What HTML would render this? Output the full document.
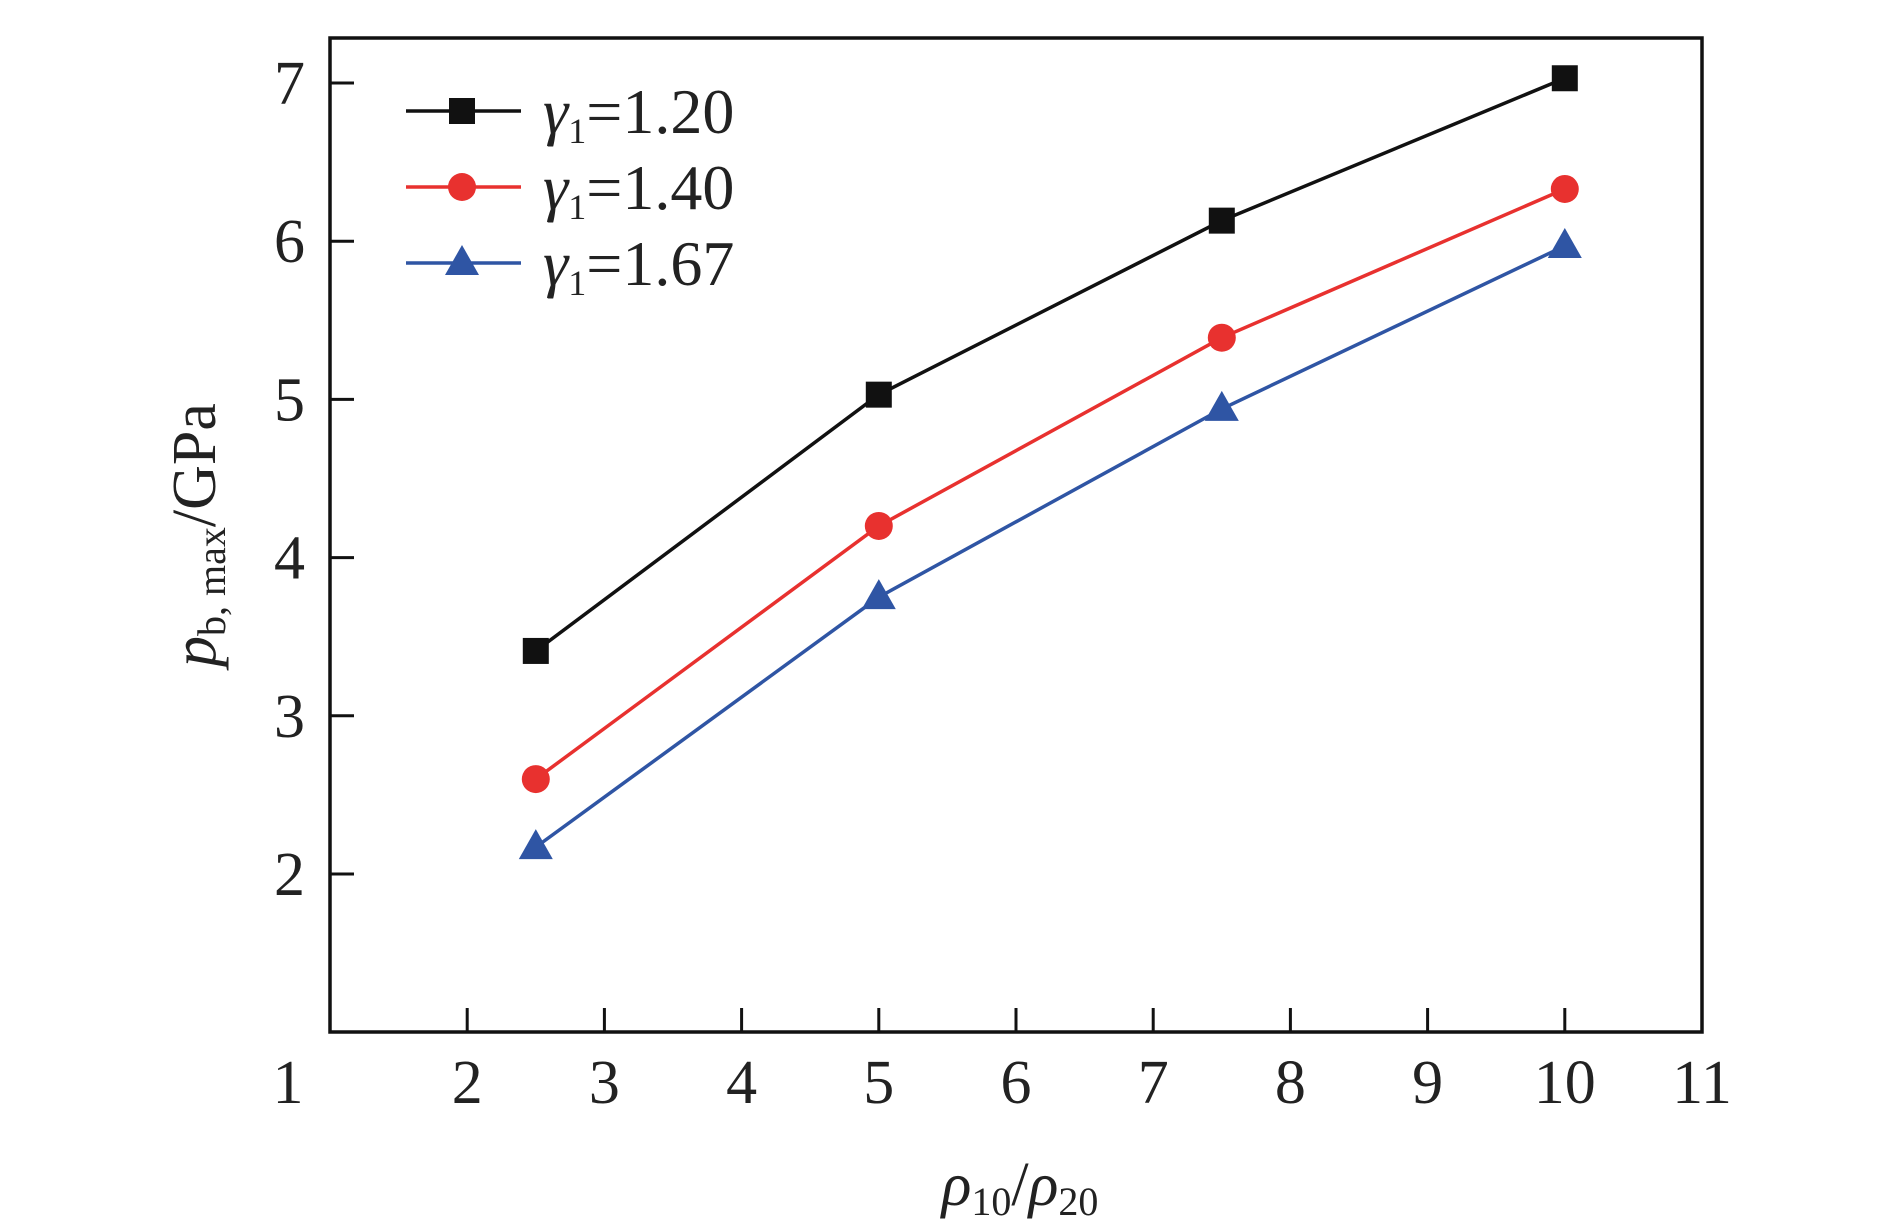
<!DOCTYPE html>
<html><head><meta charset="utf-8"><style>
html,body{margin:0;padding:0;background:#fff;}
svg{display:block;}
svg text{font-family:"Liberation Serif","Times New Roman",serif;}
</style></head><body>
<svg id="chart" width="1890" height="1223" viewBox="0 0 1890 1223"></svg>
<script>
const xTicks=[1,2,3,4,5,6,7,8,9,10,11];
const yTicks=[2,3,4,5,6,7];
const xValues=[2.5,5,7.5,10];
const seriesNames=['γ1=1.20','γ1=1.40','γ1=1.67'];
const s120=[3.41,5.03,6.13,7.03];
const s140=[2.6,4.2,5.39,6.33];
const s167=[2.17,3.75,4.94,5.97];

const L=330,R=1702,T=38,B=1032;
const X=v=>L+(v-1)/10*(R-L);
const Y=v=>874-(v-2)*158.2;
const svg=document.getElementById('chart');
const NS='http://www.w3.org/2000/svg';
function mk(t,a,p){const e=document.createElementNS(NS,t);for(const k in a)e.setAttribute(k,a[k]);(p||svg).appendChild(e);return e;}

const box=mk('rect',{x:L,y:T,width:R-L,height:B-T,fill:'none',stroke:'#111','stroke-width':3.5});



xTicks.forEach(v=>{
  if(v>1&&v<11){const t=mk('line',{x1:X(v),x2:X(v),y1:B,y2:B-24,stroke:'#111','stroke-width':3});
  
  }
  const lx=v===1?X(v)-42:X(v);
  const l=mk('text',{x:lx,y:1103,'text-anchor':'middle','font-size':62,fill:'#222'});
  l.textContent=v;
  
  
});
yTicks.forEach(v=>{
  const t=mk('line',{x1:L,x2:L+24,y1:Y(v),y2:Y(v),stroke:'#111','stroke-width':3});
  
  
  const l=mk('text',{x:305,y:Y(v)+21,'text-anchor':'end','font-size':62,fill:'#222'});
  l.textContent=v;
  
  
});

const colors=['#111111','#e8312f','#2f55a4'];
const shapes=['square','circle','triangle'];
function marker(shape,cx,cy,c){
  let e;
  if(shape==='square')e=mk('rect',{x:cx-13,y:cy-13,width:26,height:26,fill:c});
  else if(shape==='circle')e=mk('circle',{cx:cx,cy:cy,r:14,fill:c});
  else e=mk('polygon',{points:`${cx},${cy-18} ${cx+17},${cy+12} ${cx-17},${cy+12}`,fill:c});
  return e;
}
[s120,s140,s167].forEach((s,i)=>{
  const p=mk('polyline',{points:s.map((v,j)=>X(xValues[j])+','+Y(v)).join(' '),fill:'none',stroke:colors[i],'stroke-width':3.5});
  
  
  s.forEach((v,j)=>{
    const m=marker(shapes[i],X(xValues[j]),Y(v),colors[i]);
    
    
  });
  const ly=111+i*76;
  const ll=mk('line',{x1:406,x2:521,y1:ly,y2:ly,stroke:colors[i],'stroke-width':3.5});
  
  
  const lm=marker(shapes[i],462,ly,colors[i]);
  
  
  const lt=mk('text',{x:543,y:ly+22,'font-size':64,fill:'#222'});
  lt.innerHTML='<tspan font-style="italic">γ</tspan><tspan font-size="36" dy="10">1</tspan><tspan dy="-10">'+seriesNames[i].slice(2)+'</tspan>';
  
  
});

const xl=mk('text',{x:1020,y:1205,'text-anchor':'middle','font-size':62,fill:'#222'});
xl.innerHTML='<tspan font-style="italic">ρ</tspan><tspan font-size="40" dy="10">10</tspan><tspan dy="-10">/</tspan><tspan font-style="italic">ρ</tspan><tspan font-size="40" dy="10">20</tspan>';



const yl=mk('text',{x:0,y:0,'text-anchor':'middle','font-size':62,fill:'#222',transform:'translate(215,535) rotate(-90)'});
yl.innerHTML='<tspan font-style="italic">p</tspan><tspan font-size="40" dy="10">b, max</tspan><tspan dy="-10">/GPa</tspan>';


</script>
</body></html>
